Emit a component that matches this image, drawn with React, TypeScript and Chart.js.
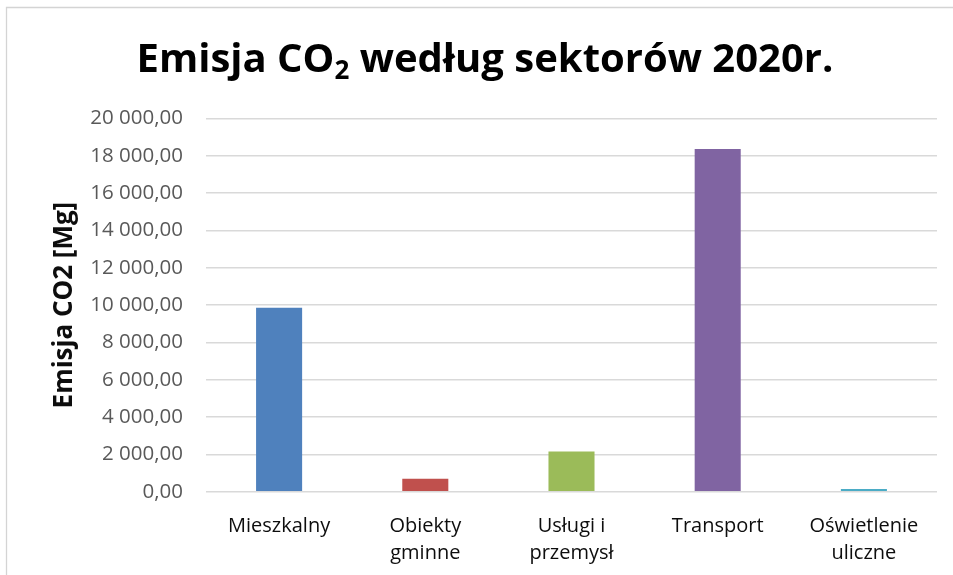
import { useEffect, useRef } from 'react';
import { Chart, registerables } from 'chart.js';

Chart.register(...registerables);

// Sectors (multi-line labels as arrays)
const categories: (string | string[])[] = [
  'Mieszkalny',
  ['Obiekty', 'gminne'],
  ['Usługi i', 'przemysł'],
  'Transport',
  ['Oświetlenie', 'uliczne'],
];

// CO2 emission per sector [Mg]
const emissions = [9860, 700, 2160, 18370, 145];

const barColors = ['#4f81bd', '#c0504d', '#9bbb59', '#8064a2', '#4bacc6'];

const yMin = 0;
const yMax = 20000;
const yStep = 2000;

const titleLead = 'Emisja CO';
const titleSub = '2';
const titleTail = ' według sektorów 2020r.';
const yAxisTitle = 'Emisja CO2 [Mg]';

const FONT = '"Open Sans", "DejaVu Sans", sans-serif';

// "20 000,00" style: space-grouped thousands, comma decimals
function formatPl(v: number): string {
  const [intPart, dec] = Math.abs(v).toFixed(2).split('.');
  const grouped = intPart.replace(/\B(?=(\d{3})+(?!\d))/g, ' ');
  return (v < 0 ? '-' : '') + grouped + ',' + dec;
}

// Frame around the chart object and the title with a real subscript
const decorPlugin = {
  id: 'decor',
  beforeDraw(chart: any) {
    const ctx = chart.ctx as CanvasRenderingContext2D;
    ctx.save();
    ctx.fillStyle = '#ffffff';
    ctx.fillRect(0, 0, chart.width, chart.height);
    ctx.strokeStyle = '#d4d4d4';
    ctx.lineWidth = 1.3;
    ctx.beginPath();
    ctx.moveTo(6.5, chart.height + 2);
    ctx.lineTo(6.5, 7.5);
    ctx.lineTo(chart.width + 2, 7.5);
    ctx.stroke();
    ctx.restore();
  },
  afterDraw(chart: any) {
    const ctx = chart.ctx as CanvasRenderingContext2D;
    ctx.save();
    const size = 40;
    const subSize = Math.round(size * 0.64);
    const main = `bold ${size}px ${FONT}`;
    const sub = `bold ${subSize}px ${FONT}`;
    ctx.font = main;
    const w1 = ctx.measureText(titleLead).width;
    const w3 = ctx.measureText(titleTail).width;
    ctx.font = sub;
    const w2 = ctx.measureText(titleSub).width;
    const total = w1 + w2 + w3;
    const cx = 485;
    const baseline = 72;
    let x = cx - total / 2;
    ctx.fillStyle = '#000000';
    ctx.textBaseline = 'alphabetic';
    ctx.textAlign = 'left';
    ctx.font = main;
    ctx.fillText(titleLead, x, baseline);
    x += w1;
    ctx.font = sub;
    ctx.fillText(titleSub, x, baseline + 7);
    x += w2;
    ctx.font = main;
    ctx.fillText(titleTail, x, baseline);
    ctx.restore();
  },
};

export default function App() {
  const canvasRef = useRef<HTMLCanvasElement | null>(null);

  useEffect(() => {
    const canvas = canvasRef.current;
    if (!canvas) return;
    const chart = new Chart(canvas, {
      type: 'bar',
      data: {
        labels: categories,
        datasets: [
          {
            data: emissions,
            backgroundColor: barColors,
            borderWidth: 0,
            barPercentage: 0.315,
            categoryPercentage: 1,
          },
        ],
      },
      options: {
        responsive: false,
        animation: false,
        devicePixelRatio: 1,
        layout: {
          padding: { left: 6, top: 118.5, right: 16, bottom: 0 },
        },
        plugins: {
          legend: { display: false },
          tooltip: { enabled: false },
          title: { display: false },
        },
        scales: {
          x: {
            grid: { display: false, drawTicks: false },
            border: { display: false },
            ticks: {
              color: '#0d0d0d',
              padding: 21,
              maxRotation: 0,
              autoSkip: false,
              font: { family: FONT, size: 20, lineHeight: 1.35 },
            },
            afterFit(scale: any) {
              scale.height = 575 - 491.7;
            },
          },
          y: {
            min: yMin,
            max: yMax,
            grid: {
              color: '#d9d9d9',
              lineWidth: 1.6,
              drawTicks: false,
            },
            border: { display: false },
            ticks: {
              stepSize: yStep,
              color: '#595959',
              padding: 23,
              font: { family: FONT, size: 20.5 },
              callback: (v: any) => formatPl(Number(v)),
            },
            title: {
              display: true,
              text: yAxisTitle,
              color: '#0d0d0d',
              padding: { top: 43, bottom: 0 },
              font: { family: FONT, size: 26, weight: 'bold', lineHeight: 1.2 },
            },
            afterFit(scale: any) {
              scale.width = 200;
            },
          },
        },
      },
      plugins: [decorPlugin],
    });
    return () => chart.destroy();
  }, []);

  return (
    <div style={{ position: 'fixed', left: 0, top: 0, width: 953, height: 575, background: '#fff' }}>
      <canvas ref={canvasRef} width={953} height={575} style={{ display: 'block' }} />
    </div>
  );
}
